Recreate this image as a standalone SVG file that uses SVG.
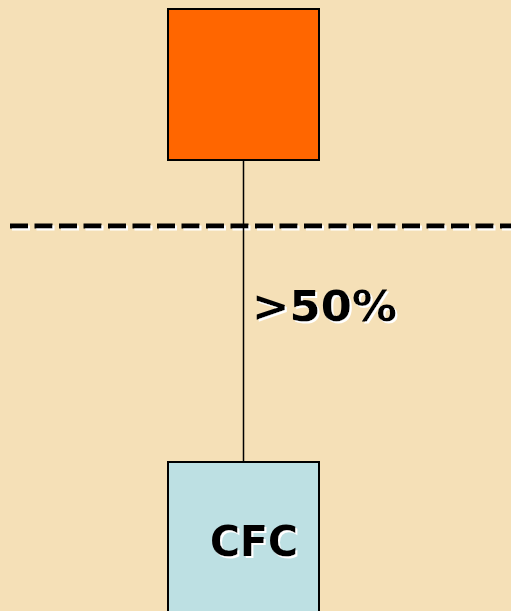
<svg xmlns="http://www.w3.org/2000/svg" width="511" height="611" viewBox="0 0 511 611">
<defs>
<filter id="wsh" x="-10%" y="-10%" width="130%" height="140%">
<feDropShadow dx="2" dy="2" stdDeviation="0" flood-color="#ffffff" flood-opacity="1"/>
</filter>
<filter id="wshU" filterUnits="userSpaceOnUse" x="0" y="210" width="511" height="30">
<feDropShadow dx="2" dy="2" stdDeviation="0" flood-color="#ffffff" flood-opacity="1"/>
</filter>
</defs>
<style>
.lbl{font-family:"DejaVu Sans",Verdana,sans-serif;font-weight:bold;font-size:42px;fill:#000;filter:url(#wsh)}
.box{stroke:#000;stroke-width:2}
</style>
<rect x="0" y="0" width="511" height="611" fill="#f5e0b7"/>
<g id="divider" filter="url(#wshU)">
<line x1="10" y1="226" x2="511" y2="226" stroke="#000000" stroke-width="5" stroke-dasharray="18 6.5"/>
</g>
<g id="connectors">
<line x1="243.5" y1="160" x2="243.5" y2="462" stroke="#000" stroke-width="1.5"/>
</g>
<g id="top-node">
<rect class="box" x="168" y="9" width="151" height="151" fill="#ff6600"/>
</g>
<g id="label-50">
<text class="lbl" x="252" y="321" textLength="145" lengthAdjust="spacingAndGlyphs">&gt;50%</text>
</g>
<g id="cfc-node">
<rect class="box" x="168" y="462" width="151" height="160" fill="#bde0e3"/>
<text class="lbl" x="210" y="556" textLength="88" lengthAdjust="spacingAndGlyphs">CFC</text>
</g>
</svg>
